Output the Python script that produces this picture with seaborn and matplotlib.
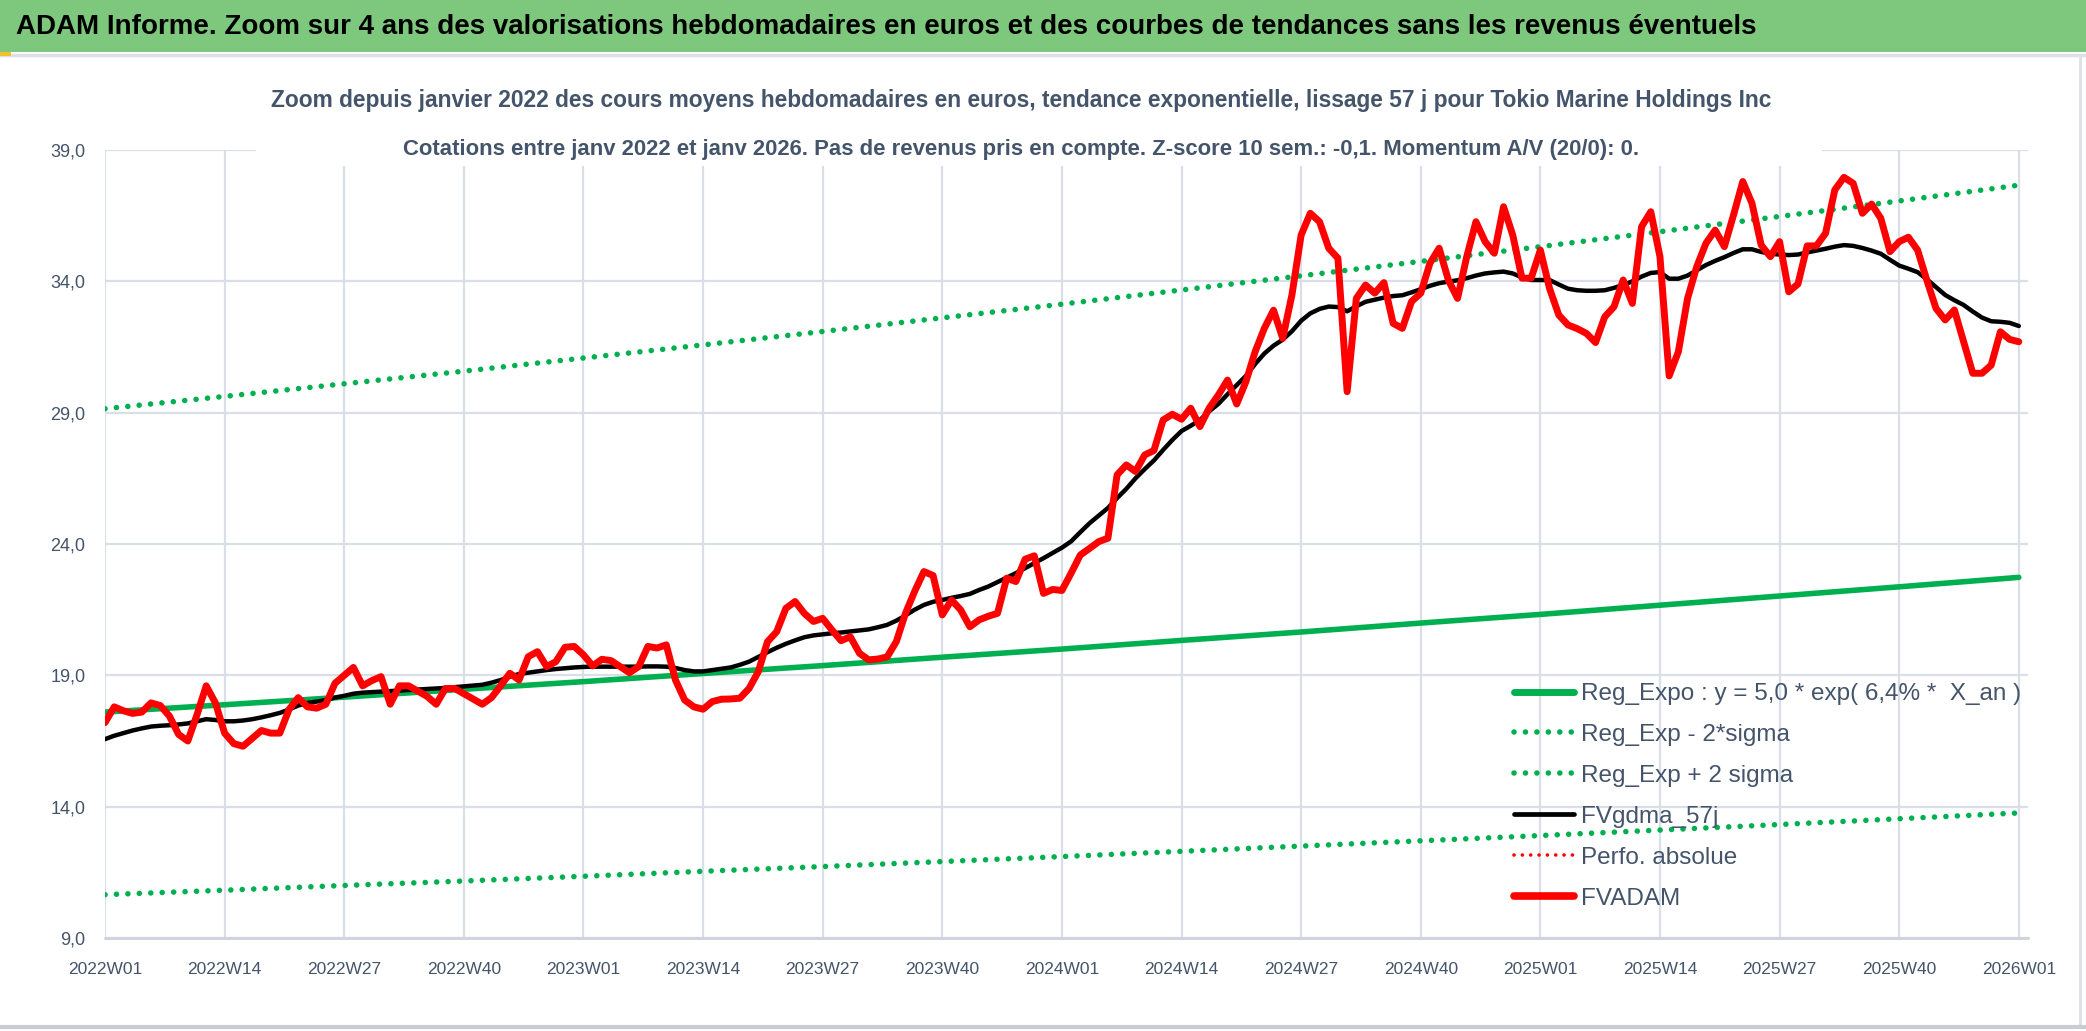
import numpy as np
import pandas as pd
import matplotlib
matplotlib.use("Agg")
import matplotlib.pyplot as plt
import seaborn as sns
from matplotlib.lines import Line2D
from matplotlib.patches import Rectangle

# ---------------- data ----------------
title = ("ADAM Informe. Zoom sur 4 ans des valorisations hebdomadaires en euros "
         "et des courbes de tendances sans les revenus éventuels")
subtitle1 = ("Zoom depuis janvier 2022 des cours moyens hebdomadaires en euros, tendance "
             "exponentielle, lissage 57 j pour Tokio Marine Holdings Inc")
subtitle2 = ("Cotations entre janv 2022 et janv 2026. Pas de revenus pris en compte. "
             "Z-score 10 sem.: -0,1. Momentum A/V (20/0): 0.")

tick_labels = ["2022W01", "2022W14", "2022W27", "2022W40", "2023W01", "2023W14",
               "2023W27", "2023W40", "2024W01", "2024W14", "2024W27", "2024W40",
               "2025W01", "2025W14", "2025W27", "2025W40", "2026W01"]
tick_weeks = [0, 13, 26, 39, 52, 65, 78, 91, 104, 117, 130, 143, 156, 169, 182, 195, 208]

y_ticks = [9, 14, 19, 24, 29, 34, 39]
y_tick_labels = ["9,0", "14,0", "19,0", "24,0", "29,0", "34,0", "39,0"]

# trend curves read at each labelled week
reg_expo = [17.6, 17.88, 18.17, 18.47, 18.76, 19.07, 19.37, 19.69, 20.0,
            20.33, 20.65, 20.99, 21.32, 21.67, 22.02, 22.37, 22.73]
reg_minus = [10.65, 10.82, 11.0, 11.17, 11.35, 11.54, 11.72, 11.91, 12.1,
             12.3, 12.5, 12.7, 12.9, 13.11, 13.32, 13.54, 13.76]
reg_plus = [29.15, 29.62, 30.1, 30.58, 31.08, 31.58, 32.09, 32.61, 33.13,
            33.67, 34.21, 34.76, 35.32, 35.89, 36.47, 37.06, 37.66]

fvadam = [
    17.2, 17.8, 17.65, 17.55, 17.6, 17.95, 17.85, 17.45, 16.75, 16.5,
    17.5, 18.6, 17.95, 16.8, 16.4, 16.3, 16.6, 16.9, 16.8, 16.8,
    17.7, 18.15, 17.8, 17.75, 17.9, 18.7, 19.0, 19.3, 18.6, 18.8,
    18.95, 17.9, 18.6, 18.6, 18.4, 18.2, 17.9, 18.5, 18.5, 18.3,
    18.1, 17.9, 18.15, 18.6, 19.08, 18.82, 19.71, 19.9, 19.33, 19.52,
    20.07, 20.1, 19.78, 19.36, 19.61, 19.56, 19.33, 19.1, 19.33, 20.1,
    20.04, 20.16, 18.82, 18.06, 17.8, 17.71, 18.0, 18.09, 18.1, 18.13,
    18.5, 19.14, 20.28, 20.66, 21.55, 21.81, 21.36, 21.05, 21.17, 20.73,
    20.32, 20.47, 19.84, 19.59, 19.62, 19.7, 20.28, 21.36, 22.2, 22.95,
    22.8, 21.3, 21.87, 21.49, 20.85, 21.11, 21.25, 21.36, 22.7, 22.57,
    23.42, 23.55, 22.12, 22.27, 22.23, 22.89, 23.58, 23.83, 24.09, 24.22,
    26.63, 27.01, 26.76, 27.39, 27.56, 28.72, 28.94, 28.75, 29.17, 28.47,
    29.17, 29.67, 30.24, 29.33, 30.18, 31.32, 32.21, 32.9, 31.83, 33.48,
    35.76, 36.59, 36.27, 35.26, 34.88, 29.8, 33.35, 33.86, 33.55, 33.95,
    32.4, 32.21, 33.23, 33.55, 34.69, 35.26, 34.05, 33.35, 34.94, 36.27,
    35.51, 35.07, 36.84, 35.76, 34.12, 34.12, 35.19, 33.73, 32.72, 32.34,
    32.2, 32.02, 31.67, 32.65, 33.03, 34.05, 33.16, 36.08, 36.65, 34.94,
    30.4, 31.32, 33.35, 34.56, 35.45, 35.95, 35.32, 36.53, 37.8, 36.97,
    35.38, 34.94, 35.51, 33.6, 33.9, 35.35, 35.35, 35.83, 37.48, 37.96,
    37.73, 36.59, 36.94, 36.4, 35.13, 35.51, 35.68, 35.19, 34.05, 32.97,
    32.53, 32.91, 31.7, 30.5, 30.5, 30.81, 32.08, 31.79, 31.7,
]

fvgdma = [
    16.57, 16.7, 16.8, 16.9, 16.98, 17.05, 17.08, 17.1, 17.13, 17.17,
    17.25, 17.33, 17.3, 17.25, 17.25, 17.28, 17.33, 17.4, 17.48, 17.57,
    17.7, 17.85, 17.95, 18.0, 18.06, 18.15, 18.22, 18.3, 18.34, 18.36,
    18.38, 18.4, 18.42, 18.44, 18.46, 18.48, 18.5, 18.52, 18.55, 18.58,
    18.61, 18.64, 18.72, 18.82, 18.95, 19.05, 19.1, 19.15, 19.2, 19.24,
    19.27, 19.3, 19.32, 19.33, 19.33, 19.33, 19.33, 19.33, 19.33, 19.34,
    19.34, 19.33, 19.28, 19.2, 19.15, 19.15, 19.2, 19.25, 19.3, 19.4,
    19.52, 19.7, 19.88, 20.05, 20.2, 20.33, 20.45, 20.52, 20.56, 20.6,
    20.63, 20.67, 20.71, 20.75, 20.83, 20.92, 21.08, 21.28, 21.5, 21.68,
    21.8, 21.87, 21.95, 22.02, 22.1, 22.25, 22.38, 22.55, 22.72, 22.89,
    23.08, 23.27, 23.46, 23.66, 23.86, 24.1, 24.45, 24.79, 25.08, 25.37,
    25.75, 26.1, 26.5, 26.85, 27.18, 27.58, 27.96, 28.3, 28.5, 28.72,
    29.05, 29.33, 29.7, 30.05, 30.4, 30.85, 31.25, 31.55, 31.78, 32.1,
    32.5, 32.78, 32.95, 33.04, 33.02, 32.86, 33.05, 33.22, 33.3, 33.38,
    33.44, 33.47, 33.58, 33.7, 33.83, 33.93, 33.99, 34.04, 34.12, 34.22,
    34.3, 34.34, 34.37, 34.3, 34.15, 34.05, 34.05, 34.05, 33.88, 33.72,
    33.66, 33.64, 33.64, 33.66, 33.75, 33.86, 34.0, 34.18, 34.32, 34.35,
    34.1, 34.1, 34.22, 34.42, 34.62, 34.78, 34.92, 35.08, 35.22, 35.22,
    35.12, 35.05, 35.02, 35.0, 35.02, 35.1, 35.17, 35.24, 35.32, 35.38,
    35.35, 35.27, 35.17, 35.05, 34.82, 34.6, 34.48, 34.35, 34.08, 33.78,
    33.48, 33.28, 33.1, 32.85, 32.62, 32.48, 32.46, 32.42, 32.3,
]

legend_labels = ["Reg_Expo : y = 5,0 * exp( 6,4% *  X_an )", "Reg_Exp - 2*sigma",
                 "Reg_Exp + 2 sigma", "FVgdma_57j", "Perfo. absolue", "FVADAM"]

# ---------------- style ----------------
W, H = 2086, 1031
sns.set_theme(style="white")
plt.rcParams['font.family'] = ['Liberation Sans', 'DejaVu Sans']

GREEN = "#00B050"
RED = "#FF0000"
SLATE = "#44546A"
GRID = "#DADFE7"

weeks = np.arange(len(fvadam))
df = pd.DataFrame({"week": weeks, "fvadam": fvadam, "fvgdma": fvgdma})
tr = pd.DataFrame({"week": tick_weeks, "reg": reg_expo, "lo": reg_minus, "hi": reg_plus})

fig = plt.figure(figsize=(W / 100, H / 100), dpi=100)
fig.patch.set_facecolor("white")

ax_left, ax_right, ax_top, ax_bot = 105, 2028, 150, 938
ax = fig.add_axes([ax_left / W, 1 - ax_bot / H, (ax_right - ax_left) / W, (ax_bot - ax_top) / H])
ax.set_facecolor("white")

dot = (0, (0.01, 2.05))
sns.lineplot(data=tr, x="week", y="reg", ax=ax, color=GREEN, linewidth=4.0,
             errorbar=None, zorder=2, solid_capstyle="round")
sns.lineplot(data=tr, x="week", y="lo", ax=ax, color=GREEN, linewidth=4.0,
             linestyle=dot, dash_capstyle="round", errorbar=None, zorder=2)
sns.lineplot(data=tr, x="week", y="hi", ax=ax, color=GREEN, linewidth=4.0,
             linestyle=dot, dash_capstyle="round", errorbar=None, zorder=2)
sns.lineplot(data=df, x="week", y="fvgdma", ax=ax, color="black", linewidth=3.2,
             errorbar=None, zorder=3)
sns.lineplot(data=df, x="week", y="fvadam", ax=ax, color=RED, linewidth=5.0,
             errorbar=None, zorder=4, solid_joinstyle="round")

ax.set_xlim(0, 209)
ax.set_ylim(9, 39)
ax.set_xticks(tick_weeks)
ax.set_xticklabels(tick_labels)
ax.set_yticks(y_ticks)
ax.set_yticklabels(y_tick_labels)
ax.set_xlabel("")
ax.set_ylabel("")
for s in ax.spines.values():
    s.set_visible(False)
ax.grid(True, color=GRID, linewidth=1.6, zorder=0)
ax.set_axisbelow(True)
ax.tick_params(axis="x", direction="out", length=5, width=1.6, color=GRID,
               labelsize=12.5, labelcolor=SLATE, pad=12)
ax.tick_params(axis="y", length=0, labelsize=13, labelcolor=SLATE, pad=14)
# bottom axis line
ax.axhline(9, color="#D0D4DC", linewidth=2.2, zorder=1, clip_on=False)

# legend
handles = [
    Line2D([], [], color=GREEN, linewidth=5, solid_capstyle="round"),
    Line2D([], [], color=GREEN, linewidth=4.0, linestyle=dot, dash_capstyle="round"),
    Line2D([], [], color=GREEN, linewidth=4.0, linestyle=dot, dash_capstyle="round"),
    Line2D([], [], color="black", linewidth=3.4, solid_capstyle="round"),
    Line2D([], [], color=RED, linewidth=2.6, linestyle=(0, (0.01, 2.3)), dash_capstyle="round"),
    Line2D([], [], color=RED, linewidth=5.5, solid_capstyle="round"),
]
leg = ax.legend(handles, legend_labels, loc="upper left",
                bbox_to_anchor=(1514 / W, 1 - 683 / H), bbox_transform=fig.transFigure,
                frameon=False, fontsize=17.5, handlelength=2.47, handletextpad=0.27,
                labelspacing=0.78, borderpad=0, borderaxespad=0)
for t in leg.get_texts():
    t.set_color(SLATE)

# banner
fig.patches.append(Rectangle((0, 1 - 52 / H), 1, 52 / H, transform=fig.transFigure,
                             facecolor="#7DC87D", edgecolor="none", zorder=1))
fig.text(16 / W, 1 - 27 / H, title, ha="left", va="center", fontsize=20,
         weight="bold", color="black", zorder=2)
fig.add_artist(Line2D([0, 1], [1 - 55 / H, 1 - 55 / H], transform=fig.transFigure,
                      color="#DDE0E6", linewidth=2.5, zorder=2))
fig.patches.append(Rectangle((0, 1 - 56 / H), 11 / W, 4 / H, transform=fig.transFigure,
                             facecolor="#F2C12E", edgecolor="none", zorder=3))

# subtitle area (white box hides gridlines beneath)
fig.patches.append(Rectangle((256 / W, 1 - 166 / H), (1822 - 256) / W, (166 - 66) / H,
                             transform=fig.transFigure, facecolor="white",
                             edgecolor="none", zorder=5))
fig.text(1021 / W, 1 - 100 / H, subtitle1, ha="center", va="center", fontsize=16.4,
         weight="bold", color=SLATE, zorder=6)
fig.text(1021 / W, 1 - 149 / H, subtitle2, ha="center", va="center", fontsize=15.9,
         weight="bold", color=SLATE, zorder=6)

# outer frame lines
fig.add_artist(Line2D([2080 / W, 2080 / W], [1 - 1026 / H, 1 - 57 / H],
                      transform=fig.transFigure, color="#DDE0E6", linewidth=2, zorder=2))
fig.add_artist(Line2D([0, 1], [1 - 1027 / H, 1 - 1027 / H], transform=fig.transFigure,
                      color="#C9CCD2", linewidth=3, zorder=2))

fig.savefig("out.png", dpi=100, facecolor="white")
